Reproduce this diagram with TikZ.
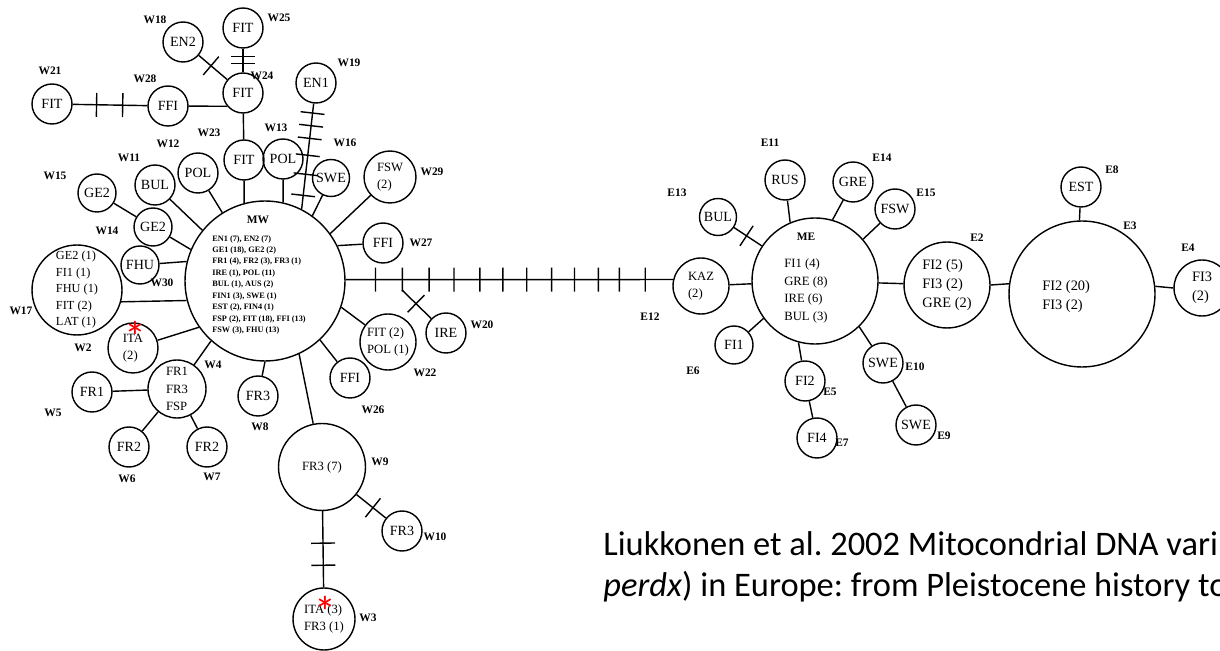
\documentclass[tikz,border=0pt]{standalone}
\usepackage{fontspec}
\setmainfont{Carlito}
\newfontfamily\hapfont{Liberation Serif}
\usetikzlibrary{decorations.markings}
\frenchspacing

\begin{document}
\begin{tikzpicture}[
  x=0.02cm, y=-0.02cm,
  hap/.style={circle, draw, line width=0.8pt, inner sep=0pt, minimum size=0.8cm, align=left,
    font=\hapfont\fontsize{8}{10}\selectfont},
  multi/.style={font=\hapfont\fontsize{7.2}{10}\selectfont},
  bigtxt/.style={font=\hapfont\fontsize{8.2}{11}\selectfont},
  link/.style={line width=0.8pt},
  tickat/.style={postaction={decorate, decoration={markings,
    mark=at position #1 with {\draw[line width=0.8pt] (0pt,-0.24cm) -- (0pt,0.24cm);}}}},
  wlab/.style={font=\hapfont\bfseries\fontsize{6.5}{7}\selectfont, inner sep=0pt},
  listtxt/.style={align=left, inner sep=0pt, anchor=north west},
  ast/.style={text=red, font=\fontsize{25}{25}\selectfont, inner sep=0pt, anchor=base},
  captxt/.style={font=\fontsize{19.6}{24}\selectfont, inner sep=0pt, anchor=base west}
]
\useasboundingbox (0,0) rectangle (1220,651);
\clip (0,0) rectangle (1220,651);

% --- Western group (MW) ---
\node[hap, minimum size=3.2cm] (mw) at (265,281) {};
\node[wlab] (mwname) at (258,220) {MW};
\node[listtxt, font=\hapfont\bfseries\fontsize{4.7}{6.5}\selectfont] (mwlist) at (212,235)
  {EN1 (7), EN2 (7)\\GE1 (18), GE2 (2)\\FR1 (4), FR2 (3), FR3 (1)\\IRE (1), POL (11)\\BUL (1), AUS (2)\\FIN1 (3), SWE (1)\\EST (2), FIN4 (1)\\FSP (2), FIT (18), FFI (13)\\FSW (3), FHU (13)};

\node[hap] (fit25) at (243,28) {FIT};
\node[hap] (en2) at (183,42) {EN2};
\node[hap] (fit24) at (243,93) {FIT};
\node[hap] (ffi28) at (168,106) {FFI};
\node[hap] (fit21) at (52,104) {FIT};
\node[hap] (en1) at (316,83) {EN1};
\node[hap] (fit23) at (244,160) {FIT};
\node[hap] (pol13) at (283,159) {POL};
\node[hap, minimum size=0.74cm] (swe16) at (331,178) {SWE};
\node[hap] (bul11) at (155,185) {BUL};
\node[hap] (pol12) at (198,173) {POL};
\node[hap, minimum size=0.76cm] (ge15) at (97,193) {GE2};
\node[hap, minimum size=0.76cm] (ge14) at (153,227) {GE2};
\node[hap, multi, minimum size=1.04cm] (fsw29) at (390,177) {FSW\\(2)};
\node[hap, minimum size=0.76cm] (fhu30) at (140,265) {FHU};
\node[hap, multi, font=\hapfont\fontsize{7}{9.4}\selectfont, minimum size=1.8cm] (w17) at (77,290)
  {GE2 (1)\\FI1 (1)\\FHU (1)\\FIT (2)\\LAT (1)};
\node[hap, multi, minimum size=1cm] (ita2) at (133,348) {ITA\\(2)};
\node[hap, multi, minimum size=1.16cm] (fr4) at (177,389) {FR1\\FR3\\FSP};
\node[hap] (fr5) at (92,392) {FR1};
\node[hap] (fr6) at (129,447) {FR2};
\node[hap] (fr7) at (207,447) {FR2};
\node[hap] (fr8) at (258,396) {FR3};
\node[hap] (ffi26) at (350,378) {FFI};
\node[hap, multi, minimum size=1.12cm] (w22) at (388,342) {FIT (2)\\POL (1)};
\node[hap] (ire20) at (446,333) {IRE};
\node[hap] (ffi27) at (383,243) {FFI};
\node[hap, multi, minimum size=1.74cm] (w9) at (322,467) {FR3 (7)};
\node[hap] (fr10) at (402,531) {FR3};
\node[hap, multi, minimum size=1.24cm] (w3) at (324,619) {ITA (3)\\FR3 (1)};
\coordinate (irebr) at (402,290);

% W labels
\node[wlab] (lw25) at (279,18) {W25};
\node[wlab] (lw18) at (155,20) {W18};
\node[wlab] (lw24) at (262,76) {W24};
\node[wlab] (lw28) at (145,79) {W28};
\node[wlab] (lw21) at (50,71) {W21};
\node[wlab] (lw19) at (349,63) {W19};
\node[wlab] (lw23) at (209,133) {W23};
\node[wlab] (lw13) at (276,128) {W13};
\node[wlab] (lw16) at (345,143) {W16};
\node[wlab] (lw12) at (168,144) {W12};
\node[wlab] (lw11) at (129,158) {W11};
\node[wlab] (lw15) at (55,176) {W15};
\node[wlab] (lw14) at (107,231) {W14};
\node[wlab] (lw29) at (432,172) {W29};
\node[wlab] (lw30) at (162,283) {W30};
\node[wlab] (lw17) at (21,311) {W17};
\node[wlab] (lw2) at (83,348) {W2};
\node[wlab] (lw4) at (213,365) {W4};
\node[wlab] (lw5) at (53,413) {W5};
\node[wlab] (lw6) at (127,479) {W6};
\node[wlab] (lw7) at (212,477) {W7};
\node[wlab] (lw8) at (260,427) {W8};
\node[wlab] (lw26) at (373,410) {W26};
\node[wlab] (lw22) at (425,373) {W22};
\node[wlab] (lw20) at (482,325) {W20};
\node[wlab] (lw27) at (421,243) {W27};
\node[wlab] (lw9) at (380,462) {W9};
\node[wlab] (lw10) at (435,537) {W10};
\node[wlab] (lw3) at (368,618) {W3};

% Ramas MW
\draw[link, tickat/.list={0.33,0.62}] (fit25) -- (fit24);
\draw[link, tickat=0.43] (en2) -- (fit24);
\draw[link, tickat/.list={0.32,0.67}] (fit21) -- (ffi28);
\draw[link] (ffi28) -- (fit24.220);
\draw[link] (fit24) -- (fit23);
\draw[link] (fit23) -- (mw.105);
\draw[link] (pol13) -- (mw.77);
\draw[link, tickat/.list={0.09,0.21,0.33,0.49,0.67,0.87}] (en1) -- (mw.63);
\draw[link] (swe16) -- (mw.54);
\draw[link] (fsw29) -- (mw.36);
\draw[link] (ffi27) -- (mw.26);
\draw[link] (pol12) -- (mw.122);
\draw[link] (bul11) -- (mw.141);
\draw[link] (ge15) -- (ge14);
\draw[link] (ge14) -- (mw.157);
\draw[link] (fhu30) -- (mw.166);
\draw[link] (w17.-15) -- (mw.194);
\draw[link] (ita2) -- (mw.215);
\draw[link] (fr4) -- (mw.228);
\draw[link] (fr5) -- (fr4);
\draw[link] (fr6) -- (fr4);
\draw[link] (fr7) -- (fr4);
\draw[link] (fr8) -- (mw.270);
\draw[link] (w9) -- (mw.295);
\draw[link, tickat=0.56] (w9) -- (fr10);
\draw[link, tickat/.list={0.42,0.71}] (w9) -- (w3);
\draw[link] (ffi26) -- (mw.313);
\draw[link] (w22) -- (mw.341);
\draw[link, tickat=0.48] (irebr) -- (ire20);

% --- Eastern group (ME) ---
\node[hap, multi, minimum size=1.12cm] (kaz) at (701,286) {KAZ\\(2)};
\node[hap, minimum size=0.74cm] (bul13) at (718,217) {BUL};
\node[hap, minimum size=2.52cm] (me) at (815,281) {};
\node[wlab] (mename) at (806,237) {ME};
\node[listtxt, font=\hapfont\fontsize{7.2}{10}\selectfont] (melist) at (784,258.5)
  {FI1 (4)\\GRE (8)\\IRE (6)\\BUL (3)};
\node[hap] (rus11) at (785,180) {RUS};
\node[hap] (gre14) at (853,182) {GRE};
\node[hap] (fsw15) at (895,209) {FSW};
\node[hap, minimum size=0.76cm] (fi6) at (734,345) {FI1};
\node[hap] (fi5) at (805,381) {FI2};
\node[hap] (fi7) at (817,438) {FI4};
\node[hap] (swe10) at (883,363) {SWE};
\node[hap] (swe9) at (916,425) {SWE};
\node[hap, bigtxt, minimum size=1.72cm] (e2) at (947,285) {FI2 (5)\\FI3 (2)\\GRE (2)};
\node[hap, minimum size=2.92cm] (e3) at (1082,294) {};
\node[listtxt, bigtxt] (e3list) at (1042,280) {FI2 (20)\\FI3 (2)};
\node[hap] (est8) at (1081,187) {EST};
\node[hap, bigtxt, minimum size=1.12cm] (e4) at (1202,288) {FI3\\(2)};

% E labels
\node[wlab] (le13) at (677,193) {E13};
\node[wlab] (le11) at (770,143) {E11};
\node[wlab] (le14) at (882,158) {E14};
\node[wlab] (le15) at (926,193) {E15};
\node[wlab] (le12) at (650,317) {E12};
\node[wlab] (le6) at (693,371) {E6};
\node[wlab] (le5) at (830,392) {E5};
\node[wlab] (le7) at (842,443) {E7};
\node[wlab] (le10) at (915,367) {E10};
\node[wlab] (le9) at (944,436) {E9};
\node[wlab] (le2) at (977,238) {E2};
\node[wlab] (le3) at (1130,226) {E3};
\node[wlab] (le8) at (1112,170) {E8};
\node[wlab] (le4) at (1188,248) {E4};

% Rama larga MW - KAZ
\draw[link, tickat/.list={0.091,0.173,0.255,0.331,0.410,0.480,0.553,0.629,0.699,0.772,0.836,0.915}]
  (mw.1) -- (kaz.167);

% Ramas ME
\draw[link] (kaz) -- (me);
\draw[link, tickat=0.45] (bul13) -- (me);
\draw[link] (rus11) -- (me.113);
\draw[link] (gre14) -- (me.74);
\draw[link] (fsw15) -- (me.41);
\draw[link] (fi6) -- (me.216);
\draw[link] (fi5) -- (me.255);
\draw[link] (fi5) -- (fi7);
\draw[link] (swe10) -- (me.314);
\draw[link] (swe10) -- (swe9);
\draw[link] (me) -- (e2);
\draw[link] (e2.east) -- (e3.172);
\draw[link] (est8) -- (e3.92);
\draw[link] (e3.6) -- (e4.west);

% asteriscos
\node[ast] (astita) at (135,353) {*};
\node[ast] (astw3) at (325,627) {*};

% Referencia
\node[captxt] (cap1) at (603,555) {Liukkonen et al. 2002 Mitocondrial DNA vari};
\node[captxt] (cap2) at (603,596) {\textit{perdx}) in Europe: from Pleistocene history to};
\end{tikzpicture}
\end{document}
